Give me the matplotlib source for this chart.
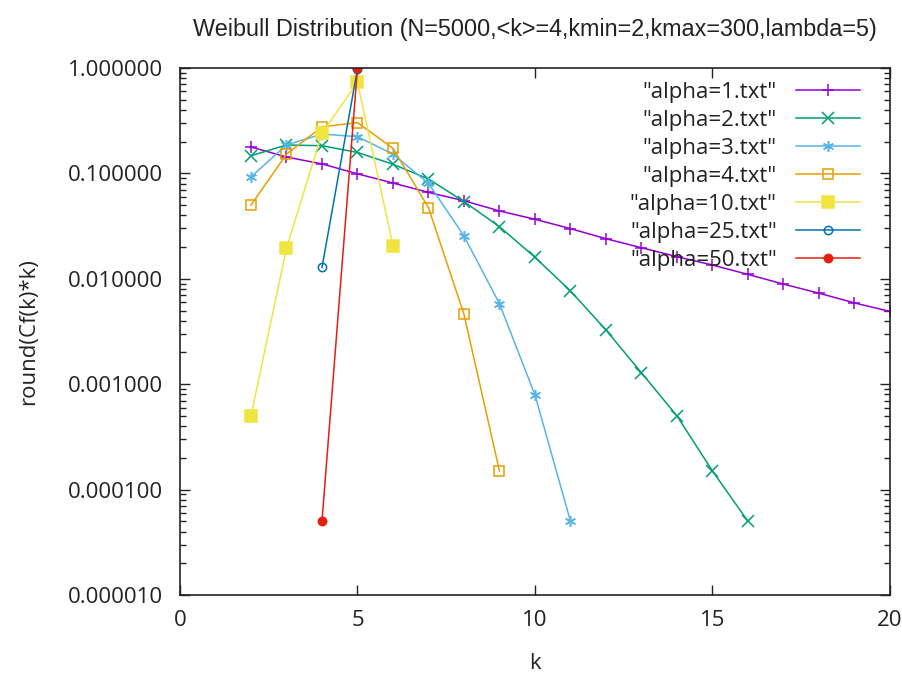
import matplotlib
matplotlib.use("Agg")
import matplotlib.pyplot as plt
from matplotlib.ticker import FixedLocator, LogLocator, NullFormatter, FormatStrFormatter

plt.rcParams['font.family'] = ['Open Sans', 'DejaVu Sans']

# data (k, round(Cf(k)*k))
k1 = [2, 3, 4, 5, 6, 7, 8, 9, 10, 11, 12, 13, 14, 15, 16, 17, 18, 19, 20, 21]
y1 = [0.178, 0.143, 0.123, 0.099, 0.081, 0.066, 0.055, 0.044, 0.0367, 0.0299,
      0.024, 0.0197, 0.0162, 0.0135, 0.011, 0.0089, 0.0073, 0.0059, 0.0049, 0.0040]
k2 = [2, 3, 4, 5, 6, 7, 8, 9, 10, 11, 12, 13, 14, 15, 16]
y2 = [0.147, 0.186, 0.183, 0.158, 0.122, 0.0885, 0.054, 0.0312, 0.016, 0.00766,
      0.00327, 0.00128, 0.0005, 0.00015, 0.00005]
k3 = [2, 3, 4, 5, 6, 7, 8, 9, 10, 11]
y3 = [0.0927, 0.186, 0.236, 0.223, 0.152, 0.0805, 0.0255, 0.0058, 0.00079, 0.00005]
k4 = [2, 3, 4, 5, 6, 7, 8, 9]
y4 = [0.05, 0.152, 0.277, 0.303, 0.173, 0.0473, 0.0046, 0.00015]
k10 = [2, 3, 4, 5, 6]
y10 = [0.0005, 0.0195, 0.24, 0.731, 0.0206]
k25 = [4, 5]
y25 = [0.0128, 0.98]
k50 = [4, 5]
y50 = [0.00005, 1.0]

series = [
    (k1, y1, '"alpha=1.txt"', '#9400d3', '+', 'full'),
    (k2, y2, '"alpha=2.txt"', '#009e73', 'x', 'full'),
    (k3, y3, '"alpha=3.txt"', '#56b4e9', (6, 2, 0), 'full'),
    (k4, y4, '"alpha=4.txt"', '#e69f00', 's', 'none'),
    (k10, y10, '"alpha=10.txt"', '#f0e442', 's', 'full'),
    (k25, y25, '"alpha=25.txt"', '#0072b2', 'o', 'none'),
    (k50, y50, '"alpha=50.txt"', '#e51e10', 'o', 'full'),
]

fig = plt.figure(figsize=(9.03, 6.73), dpi=100)
ax = fig.add_axes([0.1993, 0.1159, 0.7863, 0.7831])

for kk, yy, lab, col, mk, fill in series:
    ms = 8
    if mk == 'o':
        ms = 6
    if mk == 's':
        ms = 7 if fill == 'none' else 8
    ax.plot(kk, yy, color=col, lw=1.1, marker=mk, ms=ms, fillstyle=fill,
            mew=1.1, label=lab, clip_on=True)

ax.set_yscale('log')
ax.set_xlim(0, 20)
ax.set_ylim(1e-5, 1.0)
ax.xaxis.set_major_locator(FixedLocator([0, 5, 10, 15, 20]))
ax.yaxis.set_major_locator(LogLocator(base=10, numticks=10))
ax.yaxis.set_minor_locator(LogLocator(base=10, subs=range(2, 10), numticks=10))
ax.yaxis.set_minor_formatter(NullFormatter())
ax.yaxis.set_major_formatter(FormatStrFormatter('%f'))

ax.tick_params(which='both', direction='in', top=True, right=True, labelsize=16,
               colors='#222222')
ax.tick_params(which='major', length=7, width=1)
ax.tick_params(which='minor', length=4, width=1)
ax.tick_params(axis='x', pad=11)
ax.tick_params(axis='y', pad=12)
for sp in ax.spines.values():
    sp.set_linewidth(1.2)
    sp.set_color('#222222')

ax.set_xlabel('k', fontsize=16, labelpad=16, color='#222222')
ax.set_ylabel('round(Cf(k)*k)', fontsize=16, labelpad=21, color='#222222')
ax.set_title('Weibull Distribution (N=5000,<k>=4,kmin=2,kmax=300,lambda=5)',
             fontsize=16.85, pad=23, color='#222222',
             family=['Liberation Sans', 'DejaVu Sans'])

leg = ax.legend(loc='upper right', bbox_to_anchor=(0.9577, 0.973),
                frameon=False, markerfirst=False, fontsize=16,
                handlelength=2.9, labelspacing=0.31, handletextpad=0.85,
                borderaxespad=0, borderpad=0)
for t in leg.get_texts():
    t.set_color('#222222')

fig.savefig('out.png', dpi=100)
